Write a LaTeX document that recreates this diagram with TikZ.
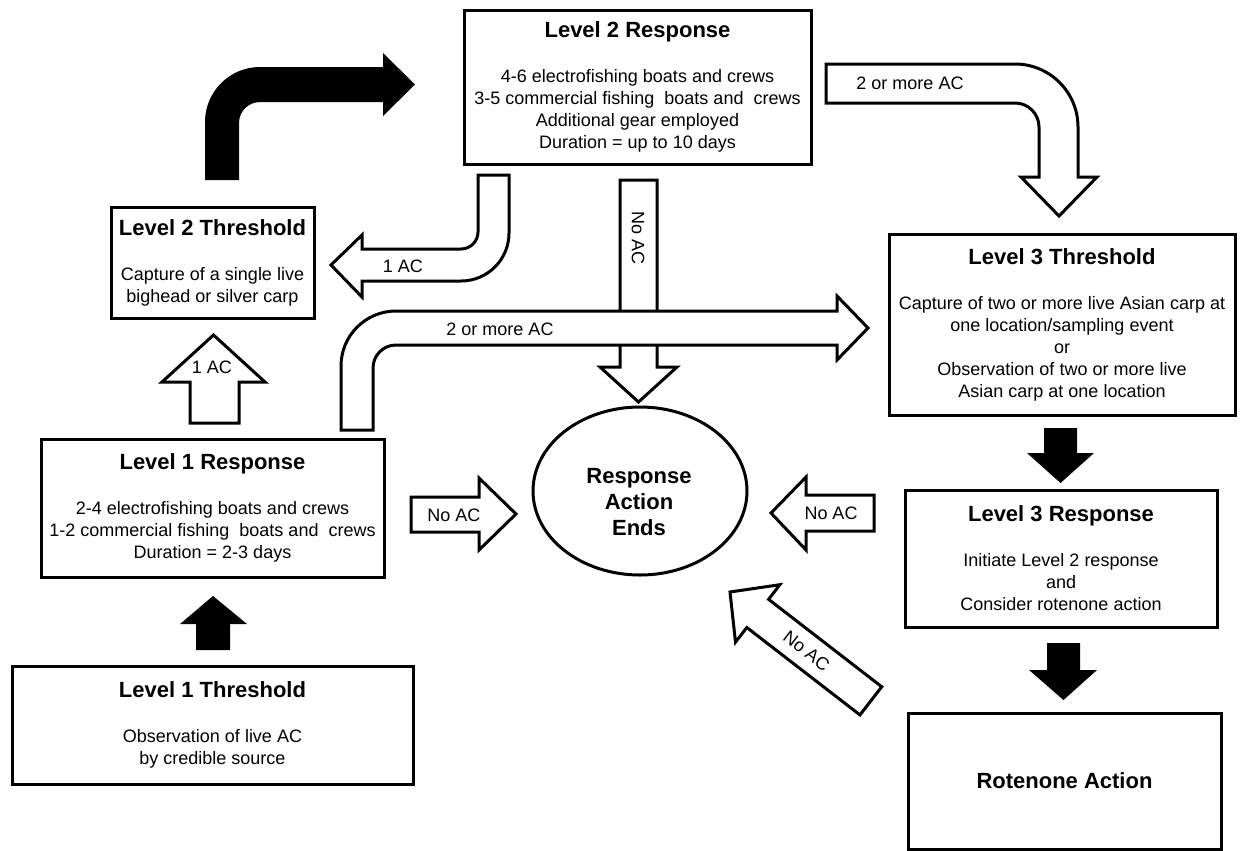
\documentclass[tikz,border=0pt]{standalone}
\usepackage{fontspec}
\setmainfont{Liberation Sans}
\usepackage{tikz}
\usetikzlibrary{shapes.geometric}

\newcommand{\boxtitle}[1]{{\bfseries\fontsize{16.5}{16.5}\selectfont #1}}

\begin{document}
\begin{tikzpicture}[x=0.75pt, y=-0.75pt,
    box/.style={draw, line width=2.25pt, rectangle, align=center, inner sep=0pt,
      font=\fontsize{13.5}{16.5}\selectfont},
    openarrow/.style={draw, fill=white, line width=2.25pt, line join=miter},
    blackarrow/.style={fill=black},
    tag/.style={font=\fontsize{13.5}{16.5}\selectfont, inner sep=0pt}]
    \useasboundingbox (0,0) rectangle (1241,850);
    \fill[white] (0,0) rectangle (1241,850);
    \clip (0,0) rectangle (1241,850);

    \node [box, minimum width=260.25pt, minimum height=115.5pt] (l2resp) at (637.5,87)
      {\boxtitle{Level 2 Response}\\[17.25pt]
       4-6 electrofishing boats and crews\\
       3-5 commercial fishing~ boats and~ crews\\
       Additional gear employed\\
       Duration = up to 10 days};
    \node [box, minimum width=152.25pt, minimum height=83.25pt] (l2thr) at (212.5,262.5)
      {\boxtitle{Level 2 Threshold}\\[17.25pt]
       Capture of a single live\\
       bighead or silver carp};
    \node [box, minimum width=257.25pt, minimum height=103.5pt] (l1resp) at (212.5,508)
      {\boxtitle{Level 1 Response}\\[17.25pt]
       2-4 electrofishing boats and crews\\
       1-2 commercial fishing~ boats and~ crews\\
       Duration = 2-3 days};
    \node [box, minimum width=300.75pt, minimum height=88.5pt] (l1thr) at (212.5,725)
      {\boxtitle{Level 1 Threshold}\\[17.25pt]
       Observation of live AC\\
       by credible source};
    \node [box, minimum width=259.5pt, minimum height=135.75pt] (l3thr) at (1062,324.5)
      {\boxtitle{Level 3 Threshold}\\[17.25pt]
       Capture of two or more live Asian carp at\\
       one location/sampling event\\
       or\\
       Observation of two or more live\\
       Asian carp at one location};
    \node [box, minimum width=234pt, minimum height=102.75pt] (l3resp) at (1061,558.5)
      {\boxtitle{Level 3 Response}\\[17.25pt]
       Initiate Level 2 response\\
       and\\
       Consider rotenone action};
    \node [box, minimum width=234.75pt, minimum height=102pt] (rotenone) at (1064.5,781)
      {\boxtitle{Rotenone Action}};
    \node [draw, ellipse, line width=2.25pt, inner sep=0pt,
      minimum width=160.5pt, minimum height=126pt] (ends) at (640,491) {};
    \node [align=center, font=\bfseries\fontsize{16.5}{19.5}\selectfont] (endstext) at (639,502)
      {Response\\Action\\Ends};

    \fill[blackarrow] (205,180) -- (205,122) arc[start angle=180, end angle=270, radius=55]
      -- (383,67) -- (383,53) -- (415,84.5) -- (383,116) -- (383,102)
      -- (260,102) arc[start angle=270, end angle=180, radius=21] -- (239,180) -- cycle;
    \fill[blackarrow] (196,650) -- (196,624) -- (180,624) -- (213,596) -- (247,624)
      -- (230,624) -- (230,650) -- cycle;
    \fill[blackarrow] (1044,428) -- (1077,428) -- (1077,453) -- (1094,453) -- (1060.5,483)
      -- (1027,453) -- (1044,453) -- cycle;
    \fill[blackarrow] (1047,643) -- (1080,643) -- (1080,670) -- (1097,670) -- (1063.5,700)
      -- (1029,670) -- (1047,670) -- cycle;

    \draw[openarrow] (478,175) -- (509,175) -- (509,233) arc[start angle=0, end angle=90, radius=48]
      -- (362,281) -- (362,297) -- (331,265) -- (362,235) -- (362,249)
      -- (461,249) arc[start angle=90, end angle=0, radius=17] -- cycle;
    \node [tag] (oneac1) at (403,266) {1 AC};

    \draw[openarrow] (190,423) -- (190,382) -- (162,382) -- (213.5,335) -- (265,382)
      -- (239,382) -- (239,423) -- cycle;
    \node [tag] (oneac2) at (212,367) {1 AC};

    \draw[openarrow] (620,180) -- (657,180) -- (657,367) -- (677,367) -- (638.5,402)
      -- (600,367) -- (620,367) -- cycle;
    \node [tag, rotate=-90] (noac1) at (638,238) {No AC};

    \draw[openarrow] (341,430) -- (341,366) arc[start angle=180, end angle=270, radius=55]
      -- (837,311) -- (837,296) -- (868,328) -- (837,360) -- (837,345)
      -- (396,345) arc[start angle=270, end angle=180, radius=23] -- (373,430) -- cycle;
    \node [tag] (twoac1) at (500,329) {2 or more AC};

    \draw[openarrow] (826,64) -- (1015,64) arc[start angle=270, end angle=360, radius=63]
      -- (1078,177) -- (1097,177) -- (1059,216) -- (1021,177) -- (1039,177)
      -- (1039,127) arc[start angle=0, end angle=-90, radius=24] -- (826,103) -- cycle;
    \node [tag] (twoac2) at (910,83) {2 or more AC};

    \draw[openarrow] (411,497) -- (479,497) -- (479,478) -- (516,514) -- (479,550)
      -- (479,532) -- (411,532) -- cycle;
    \node [tag] (noac2) at (454,515) {No AC};

    \draw[openarrow] (874,495) -- (806,495) -- (806,477) -- (771,513) -- (806,550)
      -- (806,531) -- (874,531) -- cycle;
    \node [tag] (noac3) at (831,513) {No AC};

    \begin{scope}[shift={(730,592)}, rotate=-37.7]
      \draw[openarrow] (0,0) -- (35,-36.3) -- (35,-17.8) -- (178,-17.8) -- (178,17.8)
        -- (35,17.8) -- (35,36.3) -- cycle;
    \end{scope}
    \node [tag, rotate=-37.7] (noac4) at (806.6,651) {No AC};
\end{tikzpicture}
\end{document}
